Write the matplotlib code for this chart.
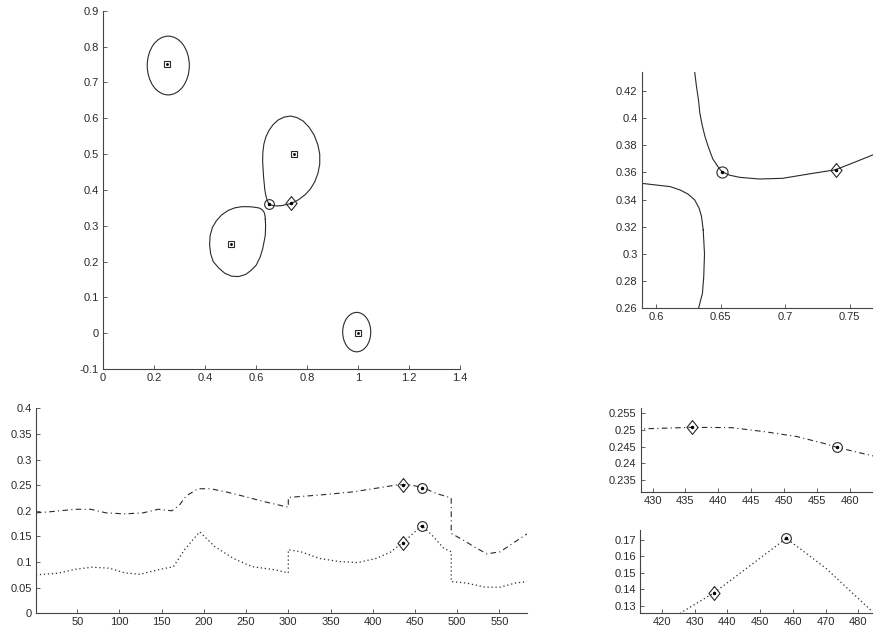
import numpy as np
import matplotlib
matplotlib.use("Agg")
import matplotlib.pyplot as plt
from matplotlib.patches import Ellipse
from matplotlib.ticker import FuncFormatter

plt.rcParams['font.family'] = ['Liberation Sans', 'DejaVu Sans']
plt.rcParams['font.size'] = 8

# centres (square markers)
centre_x = [0.25, 0.75, 0.5, 1.0]
centre_y = [0.75, 0.5, 0.25, 0.0]

# two special points: circle and diamond
circ_pt = (0.651, 0.3606)
diam_pt = (0.739, 0.362)

# near-elliptic level curves around two centres
ell_cx = [0.256, 0.995]
ell_cy = [0.747, 0.003]
ell_w = [0.165, 0.110]
ell_h = [0.164, 0.110]

# teardrop level curve around (0.75, 0.5)
upper_drop_x = [0.651, 0.648, 0.644, 0.6405, 0.638, 0.636, 0.634, 0.633, 0.6314, 0.630,
                0.628, 0.626, 0.627, 0.631, 0.639, 0.651, 0.667, 0.687, 0.710, 0.735,
                0.760, 0.785, 0.808, 0.828, 0.842, 0.850, 0.850, 0.843, 0.830, 0.813,
                0.792, 0.768, 0.755, 0.739, 0.719, 0.698, 0.680, 0.665, 0.657, 0.651]
upper_drop_y = [0.3606, 0.3643, 0.370, 0.379, 0.3864, 0.394, 0.4036, 0.413, 0.4232, 0.434,
                0.455, 0.480, 0.505, 0.528, 0.548, 0.566, 0.582, 0.595, 0.603, 0.606,
                0.602, 0.592, 0.575, 0.553, 0.527, 0.500, 0.472, 0.446, 0.422, 0.402,
                0.386, 0.373, 0.368, 0.362, 0.359, 0.3557, 0.3552, 0.3564, 0.358, 0.3606]

# teardrop level curve around (0.5, 0.25)
lower_drop_x = [0.6366, 0.6376, 0.637, 0.636, 0.633, 0.626, 0.616, 0.601, 0.582, 0.560,
                0.532, 0.505, 0.478, 0.455, 0.432, 0.422, 0.418, 0.420, 0.429, 0.445,
                0.465, 0.492, 0.518, 0.545, 0.570, 0.589, 0.598, 0.611, 0.619, 0.625,
                0.630, 0.6335, 0.6353, 0.6366]
lower_drop_y = [0.3177, 0.300, 0.283, 0.271, 0.260, 0.235, 0.212, 0.190, 0.176, 0.164,
                0.158, 0.159, 0.167, 0.181, 0.200, 0.222, 0.247, 0.272, 0.295, 0.314,
                0.330, 0.343, 0.350, 0.353, 0.353, 0.352, 0.351, 0.3496, 0.347, 0.344,
                0.3398, 0.3336, 0.3275, 0.3177]

# profiles along the path (index 1..583)
dash_x = [1, 17, 48, 66, 84, 106, 128, 146, 162, 171, 179, 193, 208, 226, 248, 271, 300,
          300, 315, 346, 377, 404, 428, 436, 442, 447, 452, 456, 458, 464, 475, 493,
          493, 507, 520, 535, 551, 569, 583]
dash_y = [0.196, 0.198, 0.203, 0.203, 0.196, 0.194, 0.196, 0.203, 0.200, 0.211, 0.229,
          0.243, 0.243, 0.237, 0.228, 0.218, 0.207,
          0.226, 0.228, 0.232, 0.237, 0.244, 0.2503, 0.2508, 0.2507, 0.2495, 0.248, 0.246,
          0.2448, 0.242, 0.234, 0.225,
          0.156, 0.143, 0.130, 0.116, 0.120, 0.140, 0.155]

dot_x = [1, 26, 48, 68, 88, 106, 124, 146, 164, 177, 195, 213, 235, 257, 284, 300,
         300, 315, 337, 360, 382, 404, 422, 426, 436, 458, 470, 484, 493,
         493, 511, 533, 551, 569, 583]
dot_y = [0.075, 0.078, 0.086, 0.090, 0.088, 0.079, 0.076, 0.085, 0.091, 0.124, 0.159,
         0.130, 0.107, 0.091, 0.085, 0.079,
         0.124, 0.120, 0.107, 0.101, 0.099, 0.107, 0.120, 0.126, 0.138, 0.171, 0.153,
         0.127, 0.120,
         0.062, 0.059, 0.051, 0.051, 0.059, 0.062]

# marked indices on the profiles
mark_diam_x = 436
mark_circ_x = 458
mark_dash_diam_y, mark_dash_circ_y = 0.2508, 0.2448
mark_dot_diam_y, mark_dot_circ_y = 0.138, 0.171

W, H = 873, 634
fig = plt.figure(figsize=(W / 100, H / 100), dpi=100)

LC = '#2a2a2a'
DASHDOT = (0, (5, 3, 1, 3))
DOTTED = (0, (1, 2.2))
DIAMOND = [(0, 1), (0.8, 0), (0, -1), (-0.8, 0), (0, 1)]
DMS = 10


def pos(l, r, t, b):
    return [l / W, 1 - b / H, (r - l) / W, (b - t) / H]


def style(ax, xt, yt):
    for s in ['top', 'right']:
        ax.spines[s].set_visible(False)
    for s in ['left', 'bottom']:
        ax.spines[s].set_color('#444444')
        ax.spines[s].set_linewidth(0.8)
    ax.set_xticks(xt)
    ax.set_yticks(yt)
    f = FuncFormatter(lambda v, p: ('%g' % round(v, 6)))
    ax.xaxis.set_major_formatter(f)
    ax.yaxis.set_major_formatter(f)
    ax.tick_params(direction='in', length=3, width=0.6, colors='#444444',
                   labelcolor='#2a2a2a', labelsize=8, pad=3)


def marker(ax, x, y, m, ms):
    ax.plot(x, y, marker=m, ms=ms, mfc='none', mec=LC, mew=0.8, ls='none', clip_on=False)
    ax.plot(x, y, '.', ms=3, color='k', clip_on=False)


def draw_curves(ax):
    for cx, cy, w, h in zip(ell_cx, ell_cy, ell_w, ell_h):
        ax.add_patch(Ellipse((cx, cy), w, h, fill=False, ec=LC, lw=0.8))
    ax.plot(upper_drop_x, upper_drop_y, color=LC, lw=0.8)
    ax.plot(lower_drop_x, lower_drop_y, color=LC, lw=0.8)


# top-left: level curves
ax1 = fig.add_axes(pos(103, 460, 10.7, 369))
draw_curves(ax1)
ax1.plot(centre_x, centre_y, 's', ms=4.5, mfc='none', mec=LC, mew=0.8, ls='none')
ax1.plot(centre_x, centre_y, '.', ms=2, color='k', ls='none')
marker(ax1, circ_pt[0], circ_pt[1], 'o', 7)
marker(ax1, diam_pt[0], diam_pt[1], DIAMOND, DMS)
ax1.set_xlim(0, 1.4)
ax1.set_ylim(-0.1, 0.9)
style(ax1, np.arange(0, 1.41, 0.2), np.arange(-0.1, 0.91, 0.1))

# top-right: zoom on the saddle
ax2 = fig.add_axes(pos(641.7, 873, 71.7, 308.3))
draw_curves(ax2)
marker(ax2, circ_pt[0], circ_pt[1], 'o', 8)
marker(ax2, diam_pt[0], diam_pt[1], DIAMOND, DMS)
ax2.set_xlim(0.589, 0.768)
ax2.set_ylim(0.26, 0.4342)
style(ax2, [0.6, 0.65, 0.7, 0.75], np.arange(0.26, 0.421, 0.02))

# bottom-left: profiles
ax3 = fig.add_axes(pos(35.9, 527.2, 408.3, 613.3))
ax3.plot(dash_x, dash_y, color=LC, lw=0.8, ls=DASHDOT)
ax3.plot(dot_x, dot_y, color=LC, lw=0.9, ls=DOTTED)
marker(ax3, mark_diam_x, mark_dash_diam_y, DIAMOND, DMS)
marker(ax3, mark_circ_x, mark_dash_circ_y, 'o', 7)
marker(ax3, mark_diam_x, mark_dot_diam_y, DIAMOND, DMS)
marker(ax3, mark_circ_x, mark_dot_circ_y, 'o', 7)
ax3.set_xlim(1, 583)
ax3.set_ylim(0, 0.4)
style(ax3, np.arange(50, 551, 50), np.arange(0, 0.401, 0.05))

# bottom-right upper: zoom on dash-dot profile
ax4 = fig.add_axes(pos(640.7, 873, 408.3, 491.7))
ax4.plot(dash_x, dash_y, color=LC, lw=0.8, ls=DASHDOT)
marker(ax4, mark_diam_x, mark_dash_diam_y, DIAMOND, DMS)
marker(ax4, mark_circ_x, mark_dash_circ_y, 'o', 7)
ax4.set_xlim(428.2, 463.5)
ax4.set_ylim(0.2315, 0.2565)
style(ax4, np.arange(430, 461, 5), np.arange(0.235, 0.2551, 0.005))

# bottom-right lower: zoom on dotted profile
ax5 = fig.add_axes(pos(640, 873, 530, 613.3))
ax5.plot(dot_x, dot_y, color=LC, lw=0.9, ls=DOTTED)
marker(ax5, mark_diam_x, mark_dot_diam_y, DIAMOND, DMS)
marker(ax5, mark_circ_x, mark_dot_circ_y, 'o', 7)
ax5.set_xlim(413.3, 484.5)
ax5.set_ylim(0.1254, 0.1761)
style(ax5, np.arange(420, 481, 10), np.arange(0.13, 0.1701, 0.01))

fig.savefig('out.png', dpi=100)
